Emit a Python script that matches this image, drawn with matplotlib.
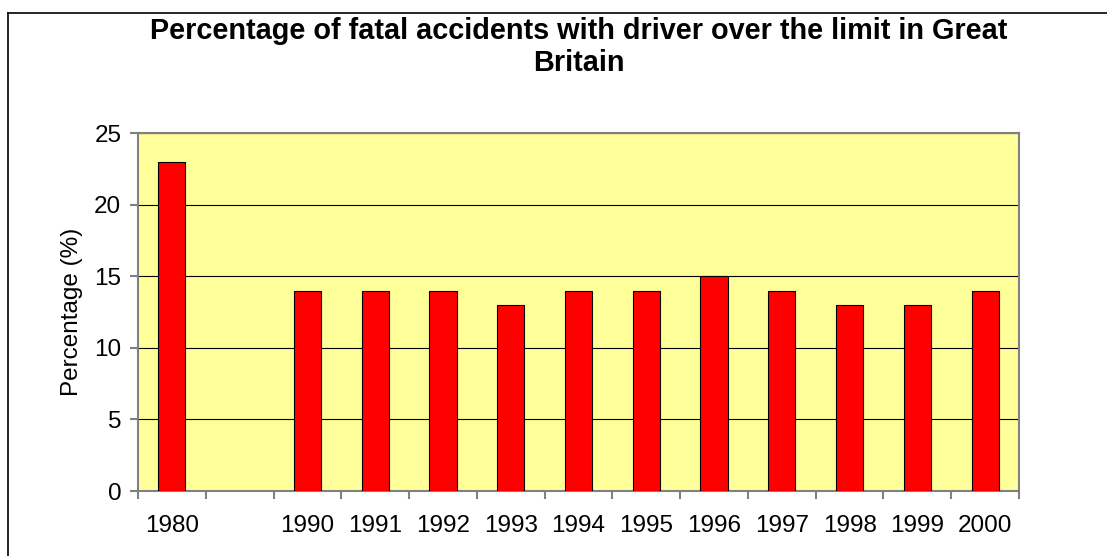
import matplotlib
matplotlib.use("Agg")
import matplotlib.pyplot as plt
import numpy as np
from matplotlib.lines import Line2D

plt.rcParams['font.family'] = ['Liberation Sans', 'DejaVu Sans']

# data (blank slot between 1980 and 1990)
years = ['1980', '', '1990', '1991', '1992', '1993', '1994', '1995',
         '1996', '1997', '1998', '1999', '2000']
pct = [23, np.nan, 14, 14, 14, 13, 14, 14, 15, 14, 13, 13, 14]
yticks = [0, 5, 10, 15, 20, 25]

W, H = 1107, 556
fig = plt.figure(figsize=(W / 100, H / 100), dpi=100)

# outer chart border (only top and left visible)
fig.add_artist(Line2D([8 / W, 8 / W], [0, 1 - 13 / H], color='black', lw=1.2))
fig.add_artist(Line2D([8 / W, 1], [1 - 13 / H, 1 - 13 / H], color='black', lw=1.2))

ax = fig.add_axes([138 / W, 1 - 491 / H, (1019 - 138) / W, (491 - 133) / H])
ax.set_facecolor('#FFFF99')

x = np.arange(len(years))
ax.bar(x, pct, width=0.4, color='#FF0000', edgecolor='black', linewidth=0.8, zorder=3)

ax.set_xlim(-0.5, len(years) - 0.5)
ax.set_ylim(0, 25)
ax.set_yticks(yticks)
ax.yaxis.grid(True, color='black', linewidth=0.8, zorder=1)

# category labels centred, tick marks on boundaries
ax.set_xticks(x)
ax.set_xticklabels(years)
ax.set_xticks(np.arange(len(years) + 1) - 0.5, minor=True)
ax.tick_params(axis='x', which='major', length=0, pad=17, labelsize=17.5)
ax.tick_params(axis='x', which='minor', length=6, width=1.5, color='#808080', direction='out')
ax.tick_params(axis='y', length=6, width=1.5, color='#808080', labelsize=17.5, pad=6)

for s in ax.spines.values():
    s.set_color('#808080')
    s.set_linewidth(1.5)

ax.set_ylabel('Percentage (%)', fontsize=17.5, labelpad=8)
fig.text(579 / W, 1 - 47 / H,
         'Percentage of fatal accidents with driver over the limit in Great\nBritain',
         ha='center', va='center', fontsize=20.8, fontweight='bold', linespacing=1.15)

fig.savefig('out.png', dpi=100)
